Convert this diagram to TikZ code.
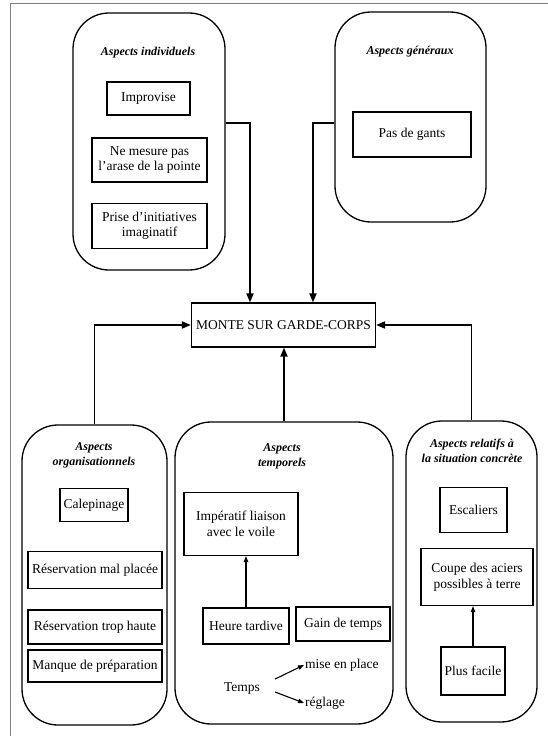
\documentclass[tikz,border=0pt]{standalone}
\usepackage{fontspec}
\setmainfont{Liberation Serif}
\usetikzlibrary{arrows.meta}

\begin{document}
\begin{tikzpicture}[x=1pt, y=-1pt,
    groupStyle/.style={rectangle, draw, line width=1.3pt, rounded corners=36pt, inner sep=0pt},
    itemStyle/.style={rectangle, draw, line width=1.2pt, align=center, inner sep=2pt, font=\fontsize{13.5}{15.5}\selectfont},
    titleStyle/.style={align=center, inner sep=1pt, font=\fontsize{12}{15}\selectfont\bfseries\itshape},
    textStyle/.style={inner sep=1pt, font=\fontsize{13.5}{15.5}\selectfont},
    linkStyle/.style={line width=1.8pt, -{Triangle[length=9pt, width=7pt]}},
    thinLink/.style={line width=1.1pt, -{Triangle[length=6pt, width=4.5pt]}}]
    \useasboundingbox (0,0) rectangle (548,736);
    \draw[gray, line width=1pt] (10,736) -- (10,3) -- (548,3);

    % groups
    \node[groupStyle, minimum width=152pt, minimum height=257pt] (indiv) at (149, 141.5) {};
    \node[groupStyle, minimum width=151pt, minimum height=210pt] (gener) at (410.5, 117) {};
    \node[groupStyle, minimum width=145pt, minimum height=300pt] (org)   at ( 94.5, 575) {};
    \node[groupStyle, minimum width=218pt, minimum height=302pt] (temp)  at (284, 573) {};
    \node[groupStyle, minimum width=131pt, minimum height=301pt] (situ)  at (471.5, 571.5) {};

    \node[titleStyle] (indiv_T) at (148, 53) {Aspects individuels};
    \node[titleStyle] (gener_T) at (410, 52) {Aspects généraux};
    \node[titleStyle] (org_T)   at ( 94, 455) {Aspects\\organisationnels};
    \node[titleStyle] (temp_T)  at (282, 456) {Aspects\\temporels};
    \node[titleStyle] (situ_T)  at (472, 451) {Aspects relatifs à\\la situation concrète};

    % items
    \node[itemStyle, minimum width=83pt,  minimum height=33pt] (indiv_0) at (148.5, 98.5) {Improvise};
    \node[itemStyle, minimum width=115pt, minimum height=44pt] (indiv_1) at (149.5, 160) {Ne mesure pas\\l'arase de la pointe};
    \node[itemStyle, minimum width=115pt, minimum height=45pt] (indiv_2) at (149.5, 226) {Prise d'initiatives\\imaginatif};

    \node[itemStyle, minimum width=118pt, minimum height=45pt] (gener_0) at (412, 134.5) {Pas de gants};

    \node[itemStyle, minimum width=184pt, minimum height=44pt] (monte) at (283.5, 325) {MONTE SUR GARDE-CORPS};

    \node[itemStyle, minimum width=68pt,  minimum height=33pt] (org_0) at (94, 505) {Calepinage};
    \node[itemStyle, minimum width=134pt, minimum height=37pt] (org_1) at (95, 570) {Réservation mal placée};
    \node[itemStyle, minimum width=134pt, minimum height=34pt] (org_2) at (95, 627) {Réservation trop haute};
    \node[itemStyle, minimum width=134pt, minimum height=32pt] (org_3) at (95, 666) {Manque de préparation};

    \node[itemStyle, minimum width=114pt, minimum height=63pt] (temp_0) at (241, 524) {Impératif liaison\\avec le voile};
    \node[itemStyle, minimum width=86pt,  minimum height=36pt] (temp_1) at (246, 626) {Heure tardive};
    \node[itemStyle, minimum width=94pt,  minimum height=34pt] (temp_2) at (343, 624) {Gain de temps};
    \node[textStyle] (temps) at (242, 689) {Temps};
    \node[textStyle, anchor=west] (mise) at (304, 665) {mise en place};
    \node[textStyle, anchor=west] (regl) at (304, 703) {réglage};

    \node[itemStyle, minimum width=67pt,  minimum height=45pt] (situ_0) at (473.5, 510) {Escaliers};
    \node[itemStyle, minimum width=112pt, minimum height=57pt, inner sep=1pt] (situ_1) at (477, 577) {Coupe des aciers\\possibles à terre};
    \node[itemStyle, minimum width=64pt,  minimum height=48pt] (situ_2) at (473, 671) {Plus facile};

    % connectors
    \draw[linkStyle] ([yshift=18.5pt]indiv.east) -| ([xshift=-33.5pt]monte.north);
    \draw[linkStyle] ([yshift=-6pt]gener.west) -| ([xshift=29.5pt]monte.north);
    \draw[linkStyle] (org.north) |- (monte.west);
    \draw[linkStyle] (situ.north) |- (monte.east);
    \draw[linkStyle] (temp.north) -- (temp.north |- monte.south);

    \draw[thinLink] (temp_1.north) -- (temp_1.north |- temp_0.south);
    \draw[thinLink] (situ_2.north) -- (situ_2.north |- situ_1.south);
    \draw[thinLink] ([xshift=14pt, yshift=10pt]temps.east) -- (mise.west);
    \draw[thinLink] ([xshift=14pt, yshift=-3pt]temps.east) -- (regl.west);
\end{tikzpicture}
\end{document}
